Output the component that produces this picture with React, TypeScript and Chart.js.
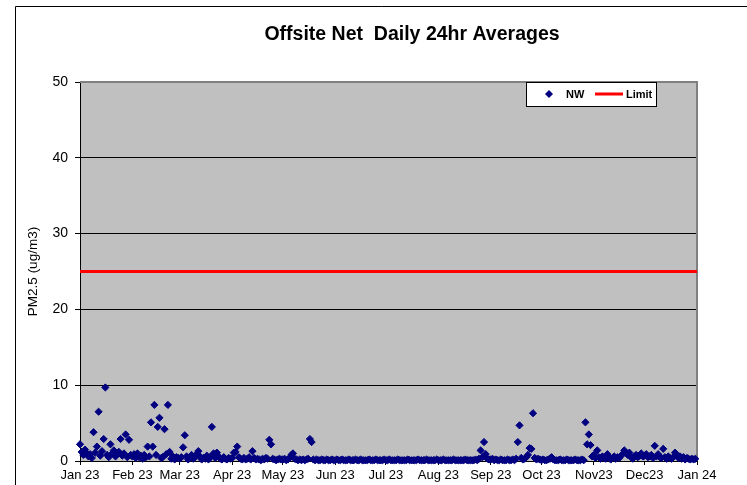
import React, { useEffect, useRef } from 'react';
import { Chart, registerables } from 'chart.js';

Chart.register(...registerables);

const TITLE = 'Offsite Net  Daily 24hr Averages';
const Y_TITLE = 'PM2.5 (ug/m3)';
const SERIES_NAME = 'NW';
const LIMIT_NAME = 'Limit';
const LIMIT_VALUE = 25;
const Y_MIN = 0;
const Y_MAX = 50;
const Y_STEP = 10;

const X_TICK_LABELS = ['Jan 23', 'Feb 23', 'Mar 23', 'Apr 23', 'May 23', 'Jun 23', 'Jul 23', 'Aug 23', 'Sep 23', 'Oct 23', 'Nov23', 'Dec23', 'Jan 24'];
const MONTH_DAYS = [31, 28, 31, 30, 31, 30, 31, 31, 30, 31, 30, 31];

// Daily 24hr averages (ug/m3), one value per day, by month
const JAN = [2.2, 1.2, 0.8, 1.5, 1.0, 0.6, 0.9, 0.4, 3.8, 1.1, 1.9, 6.5, 0.7, 1.3, 2.9, 9.7, 0.8, 0.5, 2.2, 1.0, 1.4, 0.6, 0.9, 1.2, 2.9, 0.7, 1.0, 3.5, 0.5, 2.8, 0.8];
const FEB = [0.6, 0.9, 0.4, 1.0, 0.5, 0.7, 0.3, 0.8, 0.5, 1.9, 0.6, 5.1, 1.9, 7.4, 0.8, 4.5, 5.7, 0.4, 0.5, 4.2, 0.9, 7.4, 1.2, 0.3, 0.6, 0.2, 0.5, 0.4];
const MAR = [0.3, 0.5, 1.8, 3.4, 0.6, 0.2, 0.4, 0.8, 0.3, 0.5, 0.9, 1.3, 0.6, 0.2, 0.4, 0.3, 0.7, 0.2, 0.5, 4.5, 1.0, 0.4, 1.1, 0.6, 0.3, 0.2, 0.5, 0.3, 0.2, 0.4, 0.3];
const APR = [0.4, 1.1, 1.2, 1.9, 0.5, 0.3, 0.2, 0.4, 0.2, 0.3, 0.5, 0.2, 1.3, 0.4, 0.2, 0.3, 0.2, 0.1, 0.3, 0.2, 0.4, 0.3, 2.8, 2.2, 0.3, 0.2, 0.1, 0.2, 0.3, 0.2];
const MAY = [0.2, 0.3, 0.1, 0.2, 0.4, 0.8, 1.0, 0.3, 0.2, 0.1, 0.2, 0.1, 0.2, 0.1, 0.2, 0.3, 2.9, 2.5, 0.2, 0.1, 0.2, 0.1, 0.1, 0.2, 0.1, 0.1, 0.2, 0.1, 0.1, 0.2, 0.1];
const JUN = [0.1, 0.2, 0.1, 0.1, 0.2, 0.1, 0.1, 0.1, 0.2, 0.1, 0.1, 0.1, 0.2, 0.1, 0.1, 0.2, 0.1, 0.1, 0.1, 0.1, 0.2, 0.1, 0.1, 0.1, 0.2, 0.1, 0.1, 0.1, 0.1, 0.2];
const JUL = [0.1, 0.1, 0.2, 0.1, 0.1, 0.1, 0.1, 0.2, 0.1, 0.1, 0.1, 0.1, 0.1, 0.2, 0.1, 0.1, 0.1, 0.1, 0.1, 0.2, 0.1, 0.1, 0.1, 0.1, 0.2, 0.1, 0.1, 0.1, 0.1, 0.1, 0.2];
const AUG = [0.1, 0.1, 0.1, 0.2, 0.1, 0.1, 0.1, 0.1, 0.1, 0.2, 0.1, 0.1, 0.1, 0.1, 0.1, 0.1, 0.2, 0.1, 0.1, 0.1, 0.1, 0.1, 0.2, 0.1, 0.3, 1.4, 0.5, 2.5, 0.9, 0.3, 0.2];
const SEP = [0.2, 0.3, 0.1, 0.2, 0.1, 0.1, 0.2, 0.1, 0.1, 0.1, 0.2, 0.1, 0.1, 0.2, 0.1, 0.3, 2.5, 4.7, 0.4, 0.2, 0.3, 0.5, 0.8, 1.7, 1.6, 6.3, 0.4, 0.2, 0.3, 0.2];
const OCT = [0.1, 0.2, 0.1, 0.1, 0.2, 0.3, 0.5, 0.2, 0.1, 0.1, 0.1, 0.2, 0.1, 0.1, 0.1, 0.2, 0.1, 0.1, 0.1, 0.1, 0.2, 0.1, 0.1, 0.1, 0.2, 0.1, 5.1, 2.2, 3.5, 2.1, 0.6];
const NOV = [0.8, 0.4, 1.4, 0.5, 0.3, 0.6, 0.4, 0.3, 0.9, 0.5, 0.2, 0.4, 0.6, 0.3, 0.5, 0.4, 0.7, 0.9, 1.4, 1.1, 0.8, 1.1, 0.5, 0.3, 0.6, 0.8, 0.5, 0.7, 1.0, 0.6];
const DEC = [0.7, 0.9, 0.5, 0.6, 0.8, 0.4, 2.0, 0.6, 0.9, 0.5, 0.4, 1.6, 0.5, 0.3, 0.6, 0.4, 0.3, 0.5, 1.1, 0.8, 0.4, 0.6, 0.3, 0.5, 0.2, 0.4, 0.3, 0.2, 0.3, 0.2, 0.3];

const MONTHS = [JAN, FEB, MAR, APR, MAY, JUN, JUL, AUG, SEP, OCT, NOV, DEC];

const MONTH_STARTS: number[] = [0];
MONTH_DAYS.forEach((d, i) => MONTH_STARTS.push(MONTH_STARTS[i] + d));
const X_MAX = MONTH_STARTS[MONTH_STARTS.length - 1];

const FONT = 'Arial, "Liberation Sans", sans-serif';
const NAVY = '#000080';
const RED = '#FF0000';

export default function App() {
  const ref = useRef<HTMLCanvasElement | null>(null);

  useEffect(() => {
    if (!ref.current) return;
    const points: { x: number; y: number }[] = [];
    MONTHS.forEach((arr, m) => {
      arr.forEach((v, d) => points.push({ x: MONTH_STARTS[m] + d, y: v }));
    });
    const limitPts = [
      { x: 0, y: LIMIT_VALUE },
      { x: X_MAX, y: LIMIT_VALUE },
    ];

    const decor = {
      id: 'decor',
      beforeDraw(chart: any) {
        const { ctx, chartArea: a } = chart;
        ctx.save();
        ctx.fillStyle = '#ffffff';
        ctx.fillRect(0, 0, chart.width, chart.height);
        ctx.strokeStyle = '#000000';
        ctx.lineWidth = 1;
        ctx.beginPath();
        ctx.moveTo(15.5, chart.height + 5);
        ctx.lineTo(15.5, 6.5);
        ctx.lineTo(chart.width + 5, 6.5);
        ctx.stroke();
        ctx.fillStyle = '#C0C0C0';
        ctx.fillRect(a.left, a.top, a.right - a.left, a.bottom - a.top);
        ctx.restore();
      },
      beforeDatasetsDraw(chart: any) {
        const { ctx, chartArea: a } = chart;
        ctx.save();
        ctx.strokeStyle = '#808080';
        ctx.lineWidth = 2;
        ctx.beginPath();
        ctx.moveTo(a.left, a.top);
        ctx.lineTo(a.right, a.top);
        ctx.lineTo(a.right, a.bottom);
        ctx.stroke();
        ctx.restore();
      },
      afterDraw(chart: any) {
        const { ctx } = chart;
        ctx.save();
        // Title
        ctx.fillStyle = '#000';
        ctx.font = `bold 19.5px ${FONT}`;
        ctx.textAlign = 'center';
        ctx.textBaseline = 'alphabetic';
        ctx.fillText(TITLE, 412, 40);
        // Legend box
        const bx = 526, by = 82, bw = 130, bh = 24;
        ctx.fillStyle = '#ffffff';
        ctx.fillRect(bx, by, bw, bh);
        ctx.strokeStyle = '#000';
        ctx.lineWidth = 1;
        ctx.strokeRect(bx + 0.5, by + 0.5, bw, bh);
        const cy = by + bh / 2;
        // diamond marker
        ctx.fillStyle = NAVY;
        ctx.beginPath();
        ctx.moveTo(549 - 4, cy);
        ctx.lineTo(549, cy - 4);
        ctx.lineTo(549 + 4, cy);
        ctx.lineTo(549, cy + 4);
        ctx.closePath();
        ctx.fill();
        ctx.fillStyle = '#000';
        ctx.font = `bold 11px ${FONT}`;
        ctx.textAlign = 'left';
        ctx.textBaseline = 'middle';
        ctx.fillText(SERIES_NAME, 566, cy + 1);
        ctx.strokeStyle = RED;
        ctx.lineWidth = 3;
        ctx.beginPath();
        ctx.moveTo(595, cy);
        ctx.lineTo(623, cy);
        ctx.stroke();
        ctx.fillText(LIMIT_NAME, 626, cy + 1);
        ctx.restore();
      },
    };

    const chart = new Chart(ref.current, {
      type: 'scatter',
      data: {
        datasets: [
          {
            label: LIMIT_NAME,
            data: limitPts,
            showLine: true,
            borderColor: RED,
            backgroundColor: RED,
            borderWidth: 3,
            pointRadius: 0,
          },
          {
            label: SERIES_NAME,
            data: points,
            pointStyle: 'rectRot',
            pointRadius: 3.6,
            backgroundColor: NAVY,
            borderColor: NAVY,
            borderWidth: 1,
            clip: false,
          } as any,
        ],
      },
      options: {
        responsive: false,
        animation: false,
        devicePixelRatio: 1,
        layout: { padding: { top: 82, right: 50, left: 0, bottom: 0 } },
        plugins: {
          legend: { display: false },
          title: { display: false },
          tooltip: { enabled: false },
        },
        scales: {
          x: {
            type: 'linear',
            min: 0,
            max: X_MAX,
            afterBuildTicks: (s: any) => {
              s.ticks = MONTH_STARTS.map((v) => ({ value: v }));
            },
            afterFit: (s: any) => {
              s.height = 24;
            },
            ticks: {
              autoSkip: false,
              maxRotation: 0,
              minRotation: 0,
              color: '#000',
              padding: 3,
              font: { size: 13, family: FONT },
              callback: (_v: any, i: number) => X_TICK_LABELS[i],
            },
            grid: { drawOnChartArea: false, tickLength: 4, color: '#000' },
            border: { color: '#000', width: 1 },
          },
          y: {
            min: Y_MIN,
            max: Y_MAX,
            afterFit: (s: any) => {
              s.width = 80;
            },
            ticks: {
              stepSize: Y_STEP,
              color: '#000',
              padding: 7,
              font: { size: 14, family: FONT },
            },
            grid: {
              color: (c: any) => (c.tick && c.tick.value === Y_MAX ? '#808080' : '#000'),
              tickColor: '#000',
              tickLength: 5,
              lineWidth: 1,
            },
            border: { color: '#000', width: 1 },
            title: {
              display: true,
              text: Y_TITLE,
              color: '#000',
              font: { size: 13.5, family: FONT },
              padding: { top: 25, bottom: 0 },
            },
          },
        },
      },
      plugins: [decor],
    } as any);

    return () => chart.destroy();
  }, []);

  return (
    <div style={{ position: 'fixed', left: 0, top: 0, width: 747, height: 485, background: '#fff' }}>
      <canvas ref={ref} width={747} height={485} style={{ display: 'block' }} />
    </div>
  );
}
